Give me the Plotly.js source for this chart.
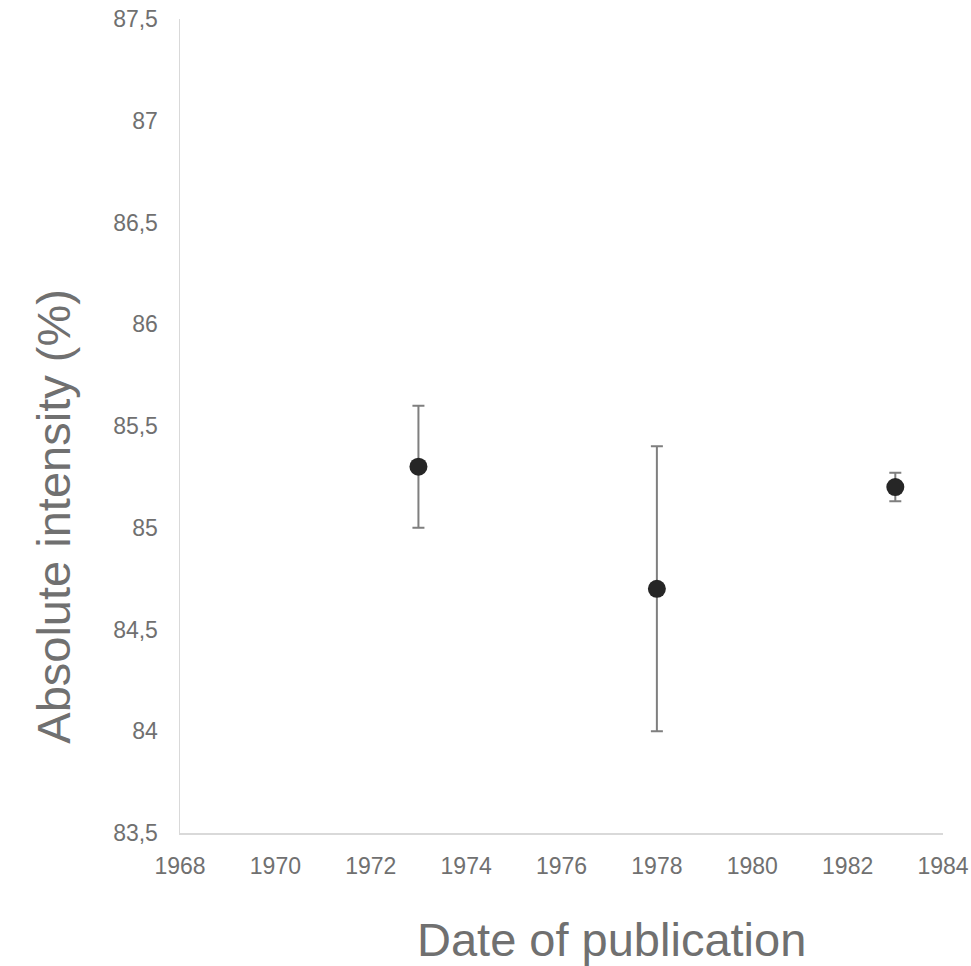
<!DOCTYPE html>
<html>
<head>
<meta charset="utf-8">
<script src="https://cdn.plot.ly/plotly-3.0.1.min.js"></script>
<style>body{margin:0;padding:0;background:#fff;}#chart{width:971px;height:966px;}</style>
</head>
<body>
<div id="chart"></div>
<script>
const years = [1973, 1978, 1983];
const intensity = [85.3, 84.7, 85.2];
const errPlus = [0.3, 0.7, 0.07];
const errMinus = [0.3, 0.7, 0.07];
const xTicks = [1968, 1970, 1972, 1974, 1976, 1978, 1980, 1982, 1984];
const yTicks = [83.5, 84, 84.5, 85, 85.5, 86, 86.5, 87, 87.5];

const trace = {
  x: years, y: intensity, type: 'scatter', mode: 'markers',
  marker: {size: 18, color: '#262626'},
  error_y: {type: 'data', symmetric: false, array: errPlus, arrayminus: errMinus,
    color: '#7f7f7f', thickness: 2, width: 6},
  hoverinfo: 'none'
};
const fontFam = 'Liberation Sans, Arial, sans-serif';
const txtCol = '#707070';
const layout = {
  width: 971, height: 966,
  margin: {l: 180, r: 28, t: 19, b: 133},
  paper_bgcolor: '#fff', plot_bgcolor: '#fff',
  separators: ',.',
  showlegend: false,
  xaxis: {
    range: [1968, 1984], tickvals: xTicks, ticktext: xTicks.map(String),
    showgrid: false, zeroline: false, showline: true, linecolor: '#d9d9d9', linewidth: 1.5,
    ticks: 'outside', ticklen: 12, tickcolor: 'rgba(0,0,0,0)',
    tickfont: {family: fontFam, size: 23, color: txtCol}
  },
  yaxis: {
    range: [83.5, 87.5], tickvals: yTicks,
    showgrid: false, zeroline: false, showline: true, linecolor: '#d9d9d9', linewidth: 1.5,
    ticks: 'outside', ticklen: 16, tickcolor: 'rgba(0,0,0,0)',
    tickfont: {family: fontFam, size: 23, color: txtCol}
  },
  annotations: [
    {text: 'Date of publication', xref: 'paper', yref: 'paper', x: 0.565, y: -0.131,
     xanchor: 'center', yanchor: 'middle', showarrow: false,
     font: {family: fontFam, size: 47, color: txtCol}},
    {text: 'Absolute intensity (%)', xref: 'paper', yref: 'paper', x: -0.166, y: 0.389,
     xanchor: 'center', yanchor: 'middle', showarrow: false, textangle: -90,
     font: {family: fontFam, size: 47, color: txtCol}}
  ]
};
Plotly.newPlot('chart', [trace], layout, {displayModeBar: false, staticPlot: true});
</script>
</body>
</html>
